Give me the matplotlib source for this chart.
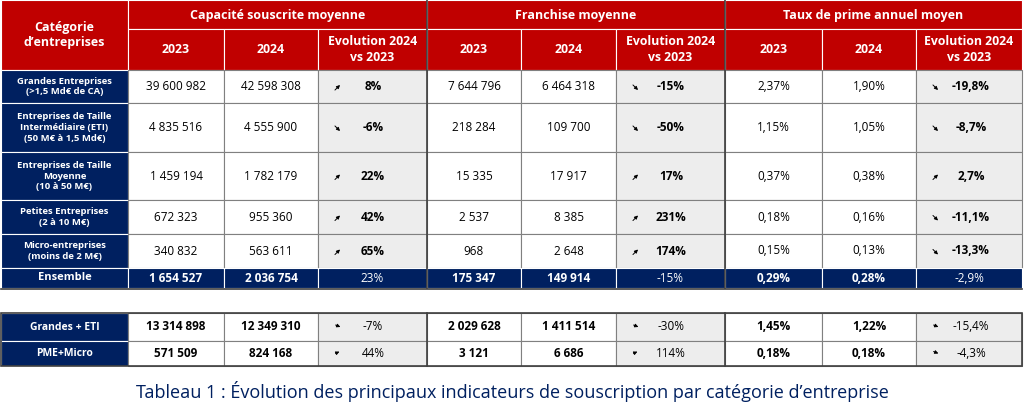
import matplotlib
matplotlib.use("Agg")
import matplotlib.pyplot as plt
from matplotlib.patches import Rectangle

plt.rcParams["font.family"] = "Open Sans"

groups = ["Capacité souscrite moyenne", "Franchise moyenne", "Taux de prime annuel moyen"]
subheads = ["2023", "2024", "Evolution 2024\nvs 2023"]
categories = ["Grandes Entreprises\n(>1,5 Md€ de CA)",
              "Entreprises de Taille\nIntermédiaire (ETI)\n(50 M€ à 1,5 Md€)",
              "Entreprises de Taille\nMoyenne\n(10 à 50 M€)",
              "Petites Entreprises\n(2 à 10 M€)",
              "Micro-entreprises\n(moins de 2 M€)"]
cap_2023 = ["39 600 982", "4 835 516", "1 459 194", "672 323", "340 832"]
cap_2024 = ["42 598 308", "4 555 900", "1 782 179", "955 360", "563 611"]
cap_evo = ["8%", "-6%", "22%", "42%", "65%"]
fr_2023 = ["7 644 796", "218 284", "15 335", "2 537", "968"]
fr_2024 = ["6 464 318", "109 700", "17 917", "8 385", "2 648"]
fr_evo = ["-15%", "-50%", "17%", "231%", "174%"]
tx_2023 = ["2,37%", "1,15%", "0,37%", "0,18%", "0,15%"]
tx_2024 = ["1,90%", "1,05%", "0,38%", "0,16%", "0,13%"]
tx_evo = ["-19,8%", "-8,7%", "2,7%", "-11,1%", "-13,3%"]
ensemble = ["1 654 527", "2 036 754", "23%", "175 347", "149 914", "-15%", "0,29%", "0,28%", "-2,9%"]
agg_labels = ["Grandes + ETI", "PME+Micro"]
agg_rows = [["13 314 898", "12 349 310", "-7%", "2 029 628", "1 411 514", "-30%", "1,45%", "1,22%", "-15,4%"],
            ["571 509", "824 168", "44%", "3 121", "6 686", "114%", "0,18%", "0,18%", "-4,3%"]]
caption = "Tableau 1 : Évolution des principaux indicateurs de souscription par catégorie d’entreprise"

RED = "#c00000"; NAVY = "#002060"; GREY = "#ededed"
xs = [1, 128, 224, 318, 427, 521, 616, 725, 822, 916, 1022]
row_y = [70, 103, 152, 200, 234, 268]
ens_y = (268, 288)
agg_y = [313, 341, 366]

fig = plt.figure(figsize=(10.24, 4.12), dpi=100)
ax = fig.add_axes([0, 0, 1, 1])
ax.set_xlim(0, 1024); ax.set_ylim(412, 0); ax.axis("off")

def cell(x0, x1, y0, y1, fc, ec="#808080", lw=0.8):
    ax.add_patch(Rectangle((x0, y0), x1 - x0, y1 - y0, facecolor=fc, edgecolor=ec, lw=lw))

def txt(x, y, s, color="black", size=7.8, bold=False, ha="center"):
    ax.text(x, y, s, color=color, fontsize=size, fontweight="bold" if bold else "normal",
            ha=ha, va="center", linespacing=1.25)

def arrow(x, y, up, flat=False):
    dy = 4 if flat else 9
    if up:
        ax.annotate("", xy=(x + 9, y - dy / 2), xytext=(x, y + dy / 2),
                    arrowprops=dict(arrowstyle="-|>", lw=0.7, color="black", mutation_scale=5))
    else:
        ax.annotate("", xy=(x + 9 if not flat else x + 10, y + dy / 2), xytext=(x, y - dy / 2),
                    arrowprops=dict(arrowstyle="-|>", lw=0.7, color="black", mutation_scale=5))

# header
cell(xs[0], xs[1], 0, 70, RED, "white")
txt((xs[0] + xs[1]) / 2, 35, "Catégorie\nd’entreprises", "white", 9, True)
for g in range(3):
    a, b = xs[1 + 3 * g], xs[4 + 3 * g]
    cell(a, b, 0, 29, RED, "white")
    txt((a + b) / 2, 15, groups[g], "white", 9, True)
    for k in range(3):
        a2, b2 = xs[1 + 3 * g + k], xs[2 + 3 * g + k]
        cell(a2, b2, 29, 70, RED, "white")
        txt((a2 + b2) / 2, 49.5, subheads[k], "white", 8.8, True)

cols = [cap_2023, cap_2024, cap_evo, fr_2023, fr_2024, fr_evo, tx_2023, tx_2024, tx_evo]
for i, cat in enumerate(categories):
    y0, y1 = row_y[i], row_y[i + 1]
    cell(xs[0], xs[1], y0, y1, NAVY, "white")
    txt((xs[0] + xs[1]) / 2, (y0 + y1) / 2, cat, "white", 6.8, True)
    for j in range(9):
        a, b = xs[1 + j], xs[2 + j]
        evo = j % 3 == 2
        cell(a, b, y0, y1, GREY if evo else "white")
        v = cols[j][i]
        ym = (y0 + y1) / 2
        if evo:
            arrow(a + 15, ym + 1, not v.startswith("-"))
            txt(a + 55, ym, v, bold=True, size=8.5)
        else:
            txt((a + b) / 2, ym, v, size=8.5)

# ensemble
cell(xs[0], xs[1], ens_y[0], ens_y[1], NAVY, "white")
txt((xs[0] + xs[1]) / 2, 278, "Ensemble", "white", 8, True)
for j in range(9):
    a, b = xs[1 + j], xs[2 + j]
    cell(a, b, ens_y[0], ens_y[1], NAVY, "white")
    txt((a + b) / 2, 278, ensemble[j], "white", 8.5, j % 3 != 2)
ax.plot([xs[0], xs[-1]], [ens_y[1] + 1, ens_y[1] + 1], color="#404040", lw=1.2)

# aggregate rows
for i, lab in enumerate(agg_labels):
    y0, y1 = agg_y[i], agg_y[i + 1]
    cell(xs[0], xs[1], y0, y1, NAVY, "white")
    txt((xs[0] + xs[1]) / 2, (y0 + y1) / 2, lab, "white", 7.5, True)
    for j in range(9):
        a, b = xs[1 + j], xs[2 + j]
        evo = j % 3 == 2
        cell(a, b, y0, y1, GREY if evo else "white")
        v = agg_rows[i][j]
        ym = (y0 + y1) / 2
        if evo:
            arrow(a + 15, ym - 1, not v.startswith("-"), flat=True)
            txt(a + 55, ym, v, size=8.5)
        else:
            txt((a + b) / 2, ym, v, bold=True, size=8.5)
ax.add_patch(Rectangle((xs[0], agg_y[0]), xs[-1] - xs[0], agg_y[-1] - agg_y[0], fill=False, ec="#404040", lw=1.2))
for g in range(1, 3):
    x = xs[1 + 3 * g]
    ax.plot([x, x], [0, ens_y[1]], color="#404040", lw=1.2)
    ax.plot([x, x], [agg_y[0], agg_y[-1]], color="#404040", lw=1.2)

txt(512, 392, caption, NAVY, 13)

fig.savefig("out.png", dpi=100)
